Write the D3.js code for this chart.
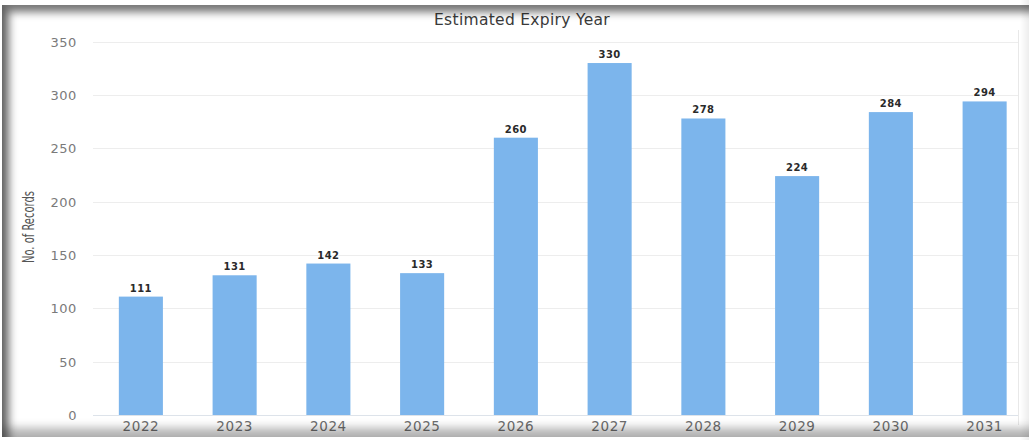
<!DOCTYPE html>
<html>
<head>
<meta charset="utf-8">
<script src="https://cdn.jsdelivr.net/npm/d3@7"></script>
<style>
  html, body { margin: 0; padding: 0; background: #fff; }
  #wrap { position: relative; width: 1029px; height: 440px; overflow: hidden; background: #fff; }
  #chart { position: absolute; left: 0; top: 0; }
  #frame {
    position: absolute; left: 2px; top: 5px; width: 1060px; height: 432px;
    box-shadow: inset 7px 7px 9px rgba(0,0,0,0.55), inset 0 -9px 10px rgba(0,0,0,0.3);
    pointer-events: none;
  }
  #edge {
    position: absolute; right: 0; top: 0; width: 9px; height: 440px;
    background: linear-gradient(to right, rgba(0,0,0,0), rgba(0,0,0,0.07));
    pointer-events: none;
  }
</style>
</head>
<body>
<div id="wrap">
  <svg id="chart" width="1029" height="440"></svg>
  <div id="frame"></div>
  <div id="edge"></div>
</div>
<script>
// Records per estimated expiry year
const years = ["2022", "2023", "2024", "2025", "2026", "2027", "2028", "2029", "2030", "2031"];
const records = [111, 131, 142, 133, 260, 330, 278, 224, 284, 294];
const yTicks = [0, 50, 100, 150, 200, 250, 300, 350];

const svg = d3.select("#chart");
const font = "'DejaVu Sans', Verdana, sans-serif";

const plotLeft = 93, plotRight = 1018;
const x = d3.scaleBand().domain(years).range([94, 1031.5]).paddingInner(0.53).paddingOuter(0.265);
const y = d3.scaleLinear().domain([0, 350]).range([415, 41.7]);

// horizontal grid lines
svg.append("g").selectAll("line").data(yTicks).join("line")
  .attr("x1", plotLeft).attr("x2", plotRight)
  .attr("y1", d => Math.round(y(d)) + 0.5).attr("y2", d => Math.round(y(d)) + 0.5)
  .attr("stroke", d => d === 0 ? "#dde3ea" : "#ededed").attr("stroke-width", 1);

// right border of the plot
svg.append("line").attr("x1", plotRight + 0.5).attr("x2", plotRight + 0.5)
  .attr("y1", 30).attr("y2", 425).attr("stroke", "#e8e8e8");

// y axis tick labels
const yAxis = d3.axisLeft(y).tickValues(yTicks).tickSize(0).tickPadding(0);
const gy = svg.append("g").attr("transform", "translate(77,0)").call(yAxis);
gy.select(".domain").remove();
gy.selectAll("text").attr("font-family", font).attr("font-size", 13)
  .attr("letter-spacing", 0.6).attr("fill", "#7a7a7a").attr("dy", "0.35em");

// x axis labels
const xAxis = d3.axisBottom(x).tickSize(0).tickPadding(0);
const gx = svg.append("g").attr("transform", "translate(0,421)").call(xAxis);
gx.select(".domain").remove();
gx.selectAll("text").attr("font-family", font).attr("font-size", 13.5)
  .attr("letter-spacing", 0.6).attr("fill", "#6e6e6e").attr("dy", "0.75em");

// bars
svg.append("g").selectAll("rect").data(years).join("rect")
  .attr("x", d => x(d)).attr("width", x.bandwidth())
  .attr("y", (d, i) => y(records[i])).attr("height", (d, i) => y(0) - y(records[i]))
  .attr("fill", "#7cb5ec");

// value labels
svg.append("g").selectAll("text").data(years).join("text")
  .attr("x", d => x(d) + x.bandwidth() / 2)
  .attr("y", (d, i) => y(records[i]) - 5)
  .attr("text-anchor", "middle")
  .attr("font-family", font).attr("font-size", 10).attr("font-weight", "bold")
  .attr("letter-spacing", 0.5).attr("fill", "#2a2a2a")
  .attr("stroke", "#fff").attr("stroke-width", 2).attr("paint-order", "stroke")
  .text((d, i) => records[i]);

// title
svg.append("text").attr("x", 522).attr("y", 25).attr("text-anchor", "middle")
  .attr("font-family", font).attr("font-size", 15.5).attr("fill", "#3a3a3a")
  .attr("letter-spacing", 0.3)
  .text("Estimated Expiry Year");

// y axis title
svg.append("text").attr("transform", "translate(34,227) rotate(-90)")
  .attr("text-anchor", "middle")
  .attr("font-family", "'Liberation Sans Narrow', 'DejaVu Sans Condensed', sans-serif")
  .attr("font-size", 15).attr("fill", "#555")
  .attr("textLength", 72).attr("lengthAdjust", "spacingAndGlyphs")
  .text("No. of Records");
</script>
</body>
</html>
